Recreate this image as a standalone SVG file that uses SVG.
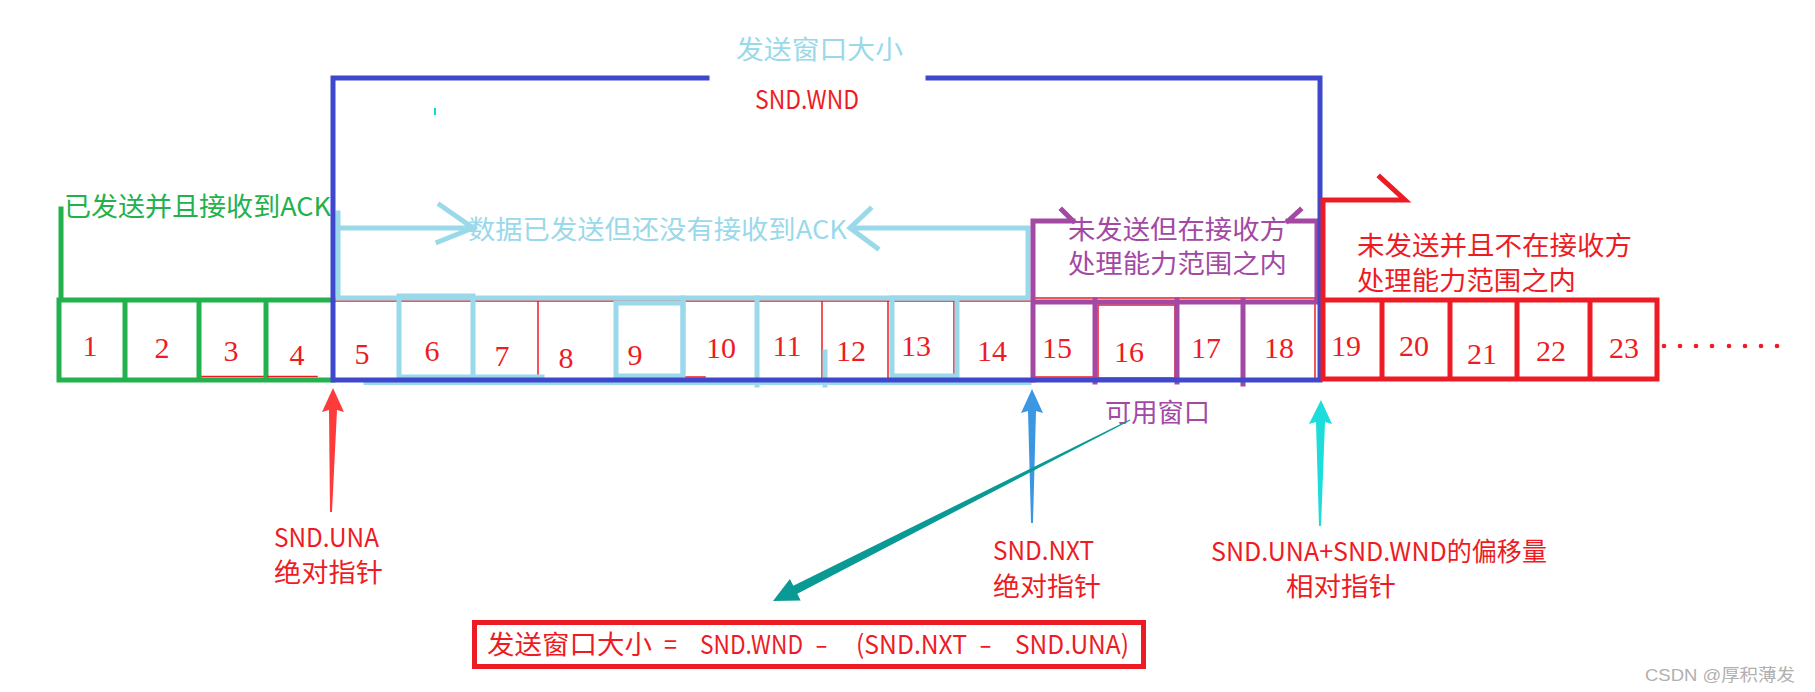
<svg xmlns="http://www.w3.org/2000/svg" width="1815" height="692" viewBox="0 0 1815 692">
<style>
.cjk{font-family:"Noto Sans CJK SC","Liberation Sans",sans-serif;font-size:26px;dominant-baseline:central}
.num{font-family:"Liberation Serif",serif;font-size:30px;fill:#ed1c24;text-anchor:middle;dominant-baseline:central}
.red{fill:#ed1c24}
.ln{fill:none;stroke-linecap:square;stroke-linejoin:miter}
.green{stroke:#22b14c;stroke-width:5}
.lblue{stroke:#99d9ea;stroke-width:5}
.purple{stroke:#a349a4;stroke-width:5}
.blue{stroke:#3f48cc;stroke-width:5}
.rthick{stroke:#ed1c24;stroke-width:5}
.rthin{stroke:#ed1c24;stroke-width:1.5}
</style>
<rect width="1815" height="692" fill="#ffffff"/>

<g id="title">
<text class="cjk" x="736" y="47" fill="#99d9ea" textLength="167" lengthAdjust="spacingAndGlyphs">发送窗口大小</text>
<text class="cjk red" x="755" y="97" textLength="104" lengthAdjust="spacingAndGlyphs">SND.WND</text>
<line x1="435" y1="108" x2="435" y2="115" stroke="#19d2d2" stroke-width="2"/>
</g>

<g id="acked">
<path class="ln green" d="M61,209 V300 M59,300 H333 M59,380 H333 M59,300 V380 M125,300 V380 M199,300 V380 M266,300 V380"/>
<path class="ln rthin" d="M202,376.5 H263 M268,376.5 H317"/>
<text class="cjk" x="64" y="204" fill="#22b14c" textLength="267" lengthAdjust="spacingAndGlyphs">已发送并且接收到ACK</text>
</g>

<g id="sent-unacked">
<path class="ln rthin" d="M336,301 H1030 M538,301 V378 M822,301 V378 M888,301 V378 M954,301 V378 M668,377 H705"/>
<path class="ln lblue" d="M338,213 V298 H1028 V228 M338,228 H471 M440,205 L473,228 L438,242 M852,228 H1028 M870,209 L850,228 L877,248"/>
<rect class="ln lblue" x="399" y="296" width="74" height="81"/>
<path class="ln lblue" d="M473,377 H542 M683,298 V372 M757,298 V385 M825,352 V385"/>
<rect class="ln lblue" x="616" y="303" width="67" height="73"/>
<rect class="ln lblue" x="892" y="298" width="65" height="78"/>
<path class="ln" d="M365,383.5 H1030" stroke="#99d9ea" stroke-width="3"/>
<text class="cjk" x="468" y="227" fill="#99d9ea" textLength="379" lengthAdjust="spacingAndGlyphs">数据已发送但还没有接收到ACK</text>
</g>

<g id="usable">
<path class="ln rthin" d="M1033,298 H1317 M1315,298 V380 M1035,377 H1095"/>
<rect class="ln rthin" x="1098" y="305" width="77" height="73"/>
<path class="ln purple" d="M1033,380 V221 H1073 M1062,210 L1073,221 M1317,300 V221 H1288 M1300,210 L1288,221 M1033,302 H1317 M1095,300 V382 M1177,300 V382 M1243,300 V384"/>
<text class="cjk" x="1068" y="227" fill="#a349a4" textLength="219" lengthAdjust="spacingAndGlyphs">未发送但在接收方</text>
<text class="cjk" x="1068" y="261" fill="#a349a4" textLength="219" lengthAdjust="spacingAndGlyphs">处理能力范围之内</text>
<text class="cjk" x="1105" y="410" fill="#a349a4" textLength="105" lengthAdjust="spacingAndGlyphs">可用窗口</text>
</g>

<g id="window">
<path class="ln blue" d="M707,78 H333 V380 H1320 V78 H928"/>
</g>

<g id="not-allowed">
<path class="ln rthick" d="M1323,300 H1657 V379 H1323 Z M1382,300 V379 M1450,300 V379 M1517,300 V379 M1590,300 V379 M1323,300 V200 H1405 L1380,177"/>
<text class="cjk red" x="1357" y="243" textLength="275" lengthAdjust="spacingAndGlyphs">未发送并且不在接收方</text>
<text class="cjk red" x="1357" y="278" textLength="219" lengthAdjust="spacingAndGlyphs">处理能力范围之内</text>
<g class="red">
<circle cx="1664" cy="346" r="2.3"/><circle cx="1680" cy="346" r="2.3"/><circle cx="1696" cy="346" r="2.3"/><circle cx="1712" cy="346" r="2.3"/>
<circle cx="1729" cy="346" r="2.3"/><circle cx="1745" cy="346" r="2.3"/><circle cx="1761" cy="346" r="2.3"/><circle cx="1777" cy="346" r="2.3"/>
</g>
</g>

<g id="numbers">
<text class="num" x="90" y="345">1</text>
<text class="num" x="162" y="347">2</text>
<text class="num" x="231" y="350">3</text>
<text class="num" x="297" y="354">4</text>
<text class="num" x="362" y="353">5</text>
<text class="num" x="432" y="350">6</text>
<text class="num" x="502" y="355">7</text>
<text class="num" x="566" y="357">8</text>
<text class="num" x="635" y="354">9</text>
<text class="num" x="721" y="347">10</text>
<text class="num" x="787" y="345">11</text>
<text class="num" x="851" y="350">12</text>
<text class="num" x="916" y="345">13</text>
<text class="num" x="992" y="350">14</text>
<text class="num" x="1057" y="347">15</text>
<text class="num" x="1129" y="351">16</text>
<text class="num" x="1206" y="347">17</text>
<text class="num" x="1279" y="347">18</text>
<text class="num" x="1346" y="345">19</text>
<text class="num" x="1414" y="345">20</text>
<text class="num" x="1482" y="353">21</text>
<text class="num" x="1551" y="350">22</text>
<text class="num" x="1624" y="347">23</text>
</g>

<g id="connectors">
<polygon points="333,388 344,412 337,410 332,512 330,512 329,410 322,412" fill="#fe3b3b"/>
<polygon points="1032,389 1043,413 1036,411 1033,523 1031,523 1028,411 1021,413" fill="#3c97e2"/>
<polygon points="1321,400 1332,424 1325,422 1321,526 1319,526 1316,422 1309,424" fill="#1ddcdc"/>
<polygon points="1129.8,419.6 793.3,585.7 789.9,579 773,601 800.7,600.4 797.3,593.7 1130.2,420.4" fill="#0a9a95"/>
</g>

<g id="pointer-una">
<text class="cjk red" x="274" y="535" textLength="105" lengthAdjust="spacingAndGlyphs">SND.UNA</text>
<text class="cjk red" x="274" y="570" textLength="109" lengthAdjust="spacingAndGlyphs">绝对指针</text>
</g>

<g id="pointer-nxt">
<text class="cjk red" x="993" y="548" textLength="101" lengthAdjust="spacingAndGlyphs">SND.NXT</text>
<text class="cjk red" x="993" y="584" textLength="108" lengthAdjust="spacingAndGlyphs">绝对指针</text>
</g>

<g id="pointer-wnd">
<text class="cjk red" x="1211" y="549" textLength="336" lengthAdjust="spacingAndGlyphs">SND.UNA+SND.WND的偏移量</text>
<text class="cjk red" x="1286" y="584" textLength="110" lengthAdjust="spacingAndGlyphs">相对指针</text>
</g>

<g id="formula">
<rect x="474.5" y="622.5" width="669" height="44" fill="none" stroke="#ed1c24" stroke-width="5"/>
<text class="cjk red" y="642"><tspan x="487" textLength="165" lengthAdjust="spacingAndGlyphs">发送窗口大小</tspan> <tspan x="664" textLength="13" lengthAdjust="spacingAndGlyphs">=</tspan> <tspan x="700" textLength="103" lengthAdjust="spacingAndGlyphs">SND.WND</tspan> <tspan x="815" textLength="13" lengthAdjust="spacingAndGlyphs">-</tspan> <tspan x="856" textLength="111" lengthAdjust="spacingAndGlyphs">(SND.NXT</tspan> <tspan x="979" textLength="13" lengthAdjust="spacingAndGlyphs">-</tspan> <tspan x="1015" textLength="114" lengthAdjust="spacingAndGlyphs">SND.UNA)</tspan></text>
</g>

<g id="watermark">
<text x="1645" y="675" font-family="Liberation Sans, Noto Sans CJK SC, sans-serif" font-size="17" fill="#b0b0b0" dominant-baseline="central" textLength="150" lengthAdjust="spacingAndGlyphs">CSDN @厚积薄发</text>
</g>
</svg>
